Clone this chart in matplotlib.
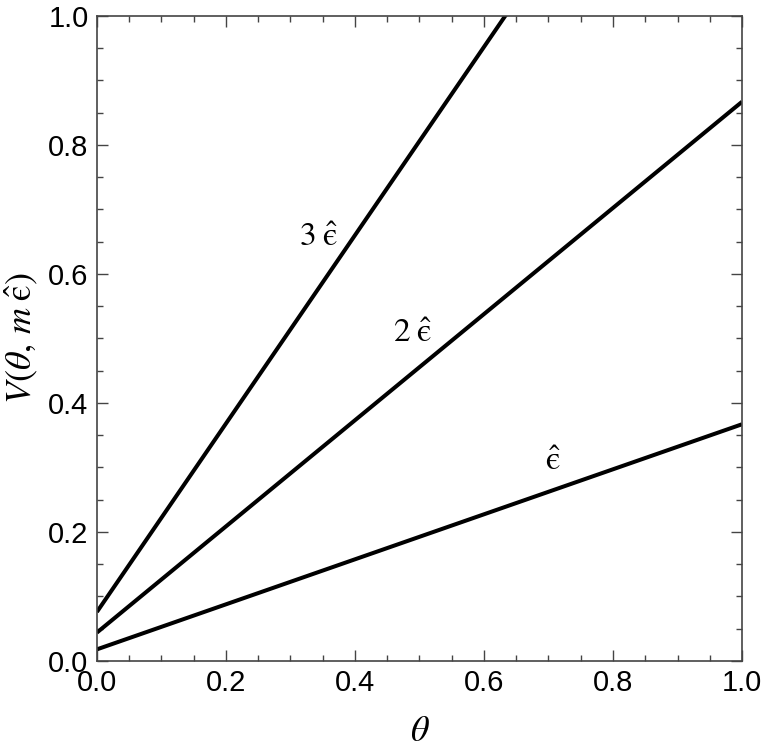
import matplotlib
matplotlib.use("Agg")
import matplotlib.pyplot as plt
from matplotlib.ticker import MultipleLocator

plt.rcParams["mathtext.fontset"] = "stix"
plt.rcParams["font.family"] = ["Liberation Sans", "DejaVu Sans"]

# Values (theta endpoints and V at those points)
theta = [0.0, 1.0]
v_eps1 = [0.018, 0.367]
v_eps2 = [0.044, 0.867]
v_eps3 = [0.076, 1.536]

labels = [r"$\hat{\mathrm{ϵ}}$", r"$2\;\hat{\mathrm{ϵ}}$", r"$3\;\hat{\mathrm{ϵ}}$"]
label_pos = [(0.707, 0.31), (0.49, 0.508), (0.344, 0.656)]

fig = plt.figure(figsize=(7.63, 7.5), dpi=100)
ax = fig.add_axes([0.127, 0.1187, 0.8455, 0.86])

for v in (v_eps1, v_eps2, v_eps3):
    ax.plot(theta, v, color="black", lw=2.9, solid_capstyle="butt")

for txt, (x, y) in zip(labels, label_pos):
    ax.text(x, y, txt, fontsize=24, ha="center", va="center")

ax.set_xlim(0, 1)
ax.set_ylim(0, 1)
ax.xaxis.set_major_locator(MultipleLocator(0.2))
ax.yaxis.set_major_locator(MultipleLocator(0.2))
ax.xaxis.set_minor_locator(MultipleLocator(0.05))
ax.yaxis.set_minor_locator(MultipleLocator(0.05))
ax.xaxis.set_major_formatter(plt.FuncFormatter(lambda v, p: f"{v:.1f}"))
ax.yaxis.set_major_formatter(plt.FuncFormatter(lambda v, p: f"{v:.1f}"))

ax.tick_params(which="both", direction="in", top=True, right=True, color="#444444",
               labelsize=21, width=1)
ax.tick_params(which="major", length=8, pad=6)
ax.tick_params(which="minor", length=4)
for s in ax.spines.values():
    s.set_color("#444444")
    s.set_linewidth(1.2)

ax.set_xlabel(r"$\theta$", fontsize=26, labelpad=12)
ax.set_ylabel(r"$V(\theta,\, m\;\hat{\mathrm{ϵ}})$", fontsize=26, labelpad=6)

fig.savefig("out.png", dpi=100)
